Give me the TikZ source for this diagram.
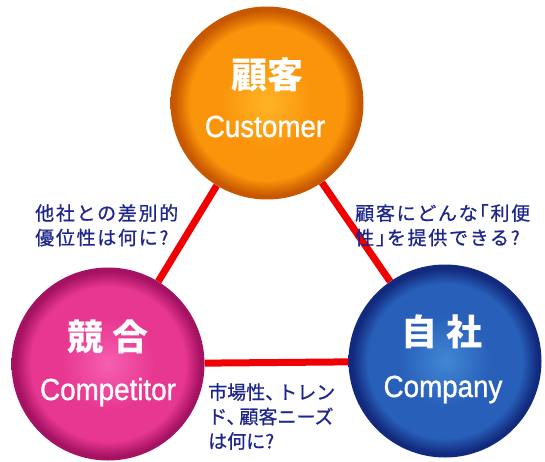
\documentclass[tikz,border=0pt]{standalone}
\usepackage{fontspec}
\setmainfont{Liberation Sans}
\newfontfamily\entitlefont[FakeStretch=0.91, FakeBold=1]{Liberation Sans}
\newfontfamily\jpfont{Noto Sans CJK JP}
\newfontfamily\jpnote[LetterSpace=9, FakeBold=0.8]{Noto Sans CJK JP}
\newfontfamily\jpnotetight[FakeBold=0.8]{Noto Sans CJK JP}
\usetikzlibrary{positioning}
\definecolor{custlight}{RGB}{255, 180, 40}
\definecolor{custmid}{RGB}{250, 148, 10}
\definecolor{custdark}{RGB}{200, 88, 0}
\definecolor{complight}{RGB}{246, 95, 175}
\definecolor{compmid}{RGB}{232, 55, 145}
\definecolor{compdark}{RGB}{165, 18, 98}
\definecolor{ownlight}{RGB}{65, 135, 212}
\definecolor{ownmid}{RGB}{40, 95, 185}
\definecolor{owndark}{RGB}{18, 42, 125}
\definecolor{linkred}{RGB}{240, 0, 0}
\definecolor{notenavy}{RGB}{30, 38, 140}
\pgfdeclareradialshading{custball}{\pgfpoint{0bp}{0bp}}{color(0bp)=(custlight); color(12bp)=(custmid); color(20bp)=(custmid); color(24bp)=(custdark); color(50bp)=(custdark)}
\pgfdeclareradialshading{compball}{\pgfpoint{0bp}{0bp}}{color(0bp)=(complight); color(12bp)=(compmid); color(20bp)=(compmid); color(24bp)=(compdark); color(50bp)=(compdark)}
\pgfdeclareradialshading{ownball}{\pgfpoint{0bp}{0bp}}{color(0bp)=(ownlight); color(12bp)=(ownmid); color(20bp)=(ownmid); color(24bp)=(owndark); color(50bp)=(owndark)}

\begin{document}
\begin{tikzpicture}[x=1pt, y=-1pt,
        ball/.style={circle, minimum size=193pt, inner sep=0pt},
        jptitle/.style={text=white, font=\jpfont\bfseries\fontsize{36}{40}\selectfont, inner sep=0pt},
        entitle/.style={text=white, font=\entitlefont\fontsize{30.5}{34}\selectfont, inner sep=0pt, anchor=base},
        note/.style={text=notenavy, font=\jpnote\fontsize{19}{24.5}\selectfont, align=left, anchor=north west, inner sep=0pt},
        link/.style={draw=linkred, line width=7pt}
    ]
        \useasboundingbox (0,0) rectangle (545,461);

        \node[ball, shading=custball] (customer) at (267,103) {};
        \node[ball, shading=compball] (competitor) at (108,364) {};
        \node[ball, shading=ownball] (company) at (445,361) {};

        \draw[link] (customer) -- (competitor);
        \draw[link] (customer) -- (company);
        \draw[link] (competitor) -- (company);

        \node[jptitle] (customer-jp) at (267,75) {顧客};
        \node[entitle] (customer-en) at (265,137) {Customer};
        \node[jptitle] (competitor-jp) at (108,337) {競 合};
        \node[entitle] (competitor-en) at (108,400) {Competitor};
        \node[jptitle] (company-jp) at (442,332) {自 社};
        \node[entitle] (company-en) at (443,397) {Company};

        \node[note] (diff) at (35,204) {他社との差別的\\優位性は何に?};
        \node[note] (benefit) at (355,204) {顧客にどんな\kern-8pt「利便\\性」\kern-8pt を提供できる?};
        \node[note, font=\jpnotetight\fontsize{19}{24.5}\selectfont] (market) at (208,383) {市場性、\kern-6pt トレン\\ド、\kern-6pt 顧客ニーズ\\は何に?};
    \end{tikzpicture}
\end{document}
